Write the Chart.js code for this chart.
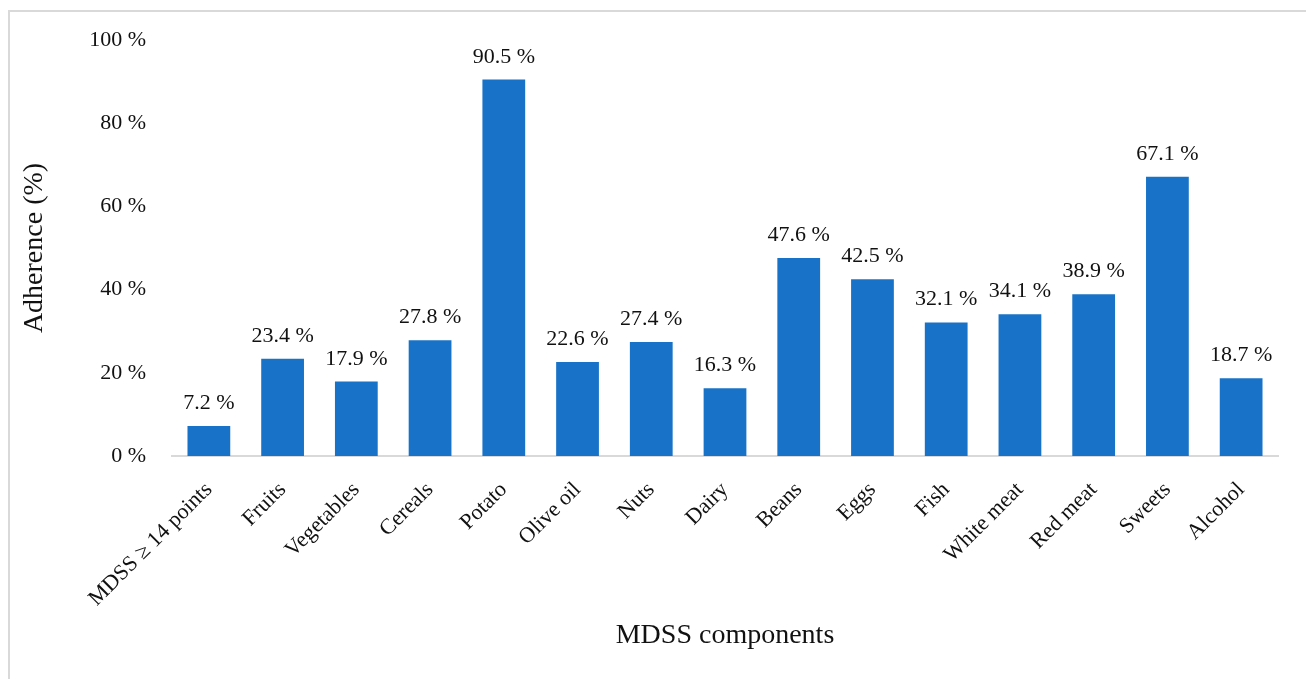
<!DOCTYPE html>
<html>
<head>
<meta charset="utf-8">
<script src="https://cdn.jsdelivr.net/npm/chart.js@4.4.1/dist/chart.umd.min.js"></script>
<style>
  body { margin: 0; background: #fff; overflow: hidden; }
  #frame { position: absolute; left: 8px; top: 10px; width: 1400px; height: 800px;
           border-left: 2px solid #d9d9d9; border-top: 2px solid #d9d9d9; }
  #chart { position: absolute; left: 0; top: 0; }
</style>
</head>
<body>
<div id="frame"></div>
<canvas id="chart" width="1306" height="679"></canvas>
<script>
var categories = ['MDSS \u2265 14 points', 'Fruits', 'Vegetables', 'Cereals', 'Potato', 'Olive oil', 'Nuts',
    'Dairy', 'Beans', 'Eggs', 'Fish', 'White meat', 'Red meat', 'Sweets', 'Alcohol'];
var adherence = [7.2, 23.4, 17.9, 27.8, 90.5, 22.6, 27.4, 16.3, 47.6, 42.5, 32.1, 34.1, 38.9, 67.1, 18.7];
var yTicks = [0, 20, 40, 60, 80, 100];

var serif = '"Liberation Serif", "Times New Roman", serif';

// draws the value above each bar
var valueLabels = {
    id: 'valueLabels',
    afterDatasetsDraw: function(chart) {
        var ctx = chart.ctx;
        var meta = chart.getDatasetMeta(0);
        ctx.save();
        ctx.font = '22px ' + serif;
        ctx.fillStyle = '#111';
        ctx.textAlign = 'center';
        ctx.textBaseline = 'alphabetic';
        meta.data.forEach(function(bar, i) {
            ctx.fillText(adherence[i].toFixed(1) + ' %', bar.x, bar.y - 17);
        });
        ctx.restore();
    }
};

var ctx = document.getElementById('chart').getContext('2d');
var chart = new Chart(ctx, {
    type: 'bar',
    data: {
        labels: categories,
        datasets: [{
            data: adherence,
            backgroundColor: '#1873c8',
            borderWidth: 0,
            barPercentage: 0.58,
            categoryPercentage: 1
        }]
    },
    options: {
        responsive: false,
        animation: false,
        layout: { padding: { left: 0, top: 40, right: 28, bottom: 0 } },
        plugins: {
            legend: { display: false },
            tooltip: { enabled: false }
        },
        scales: {
            x: {
                grid: { display: false, drawTicks: false },
                border: { display: true, color: '#d9d9d9', width: 2 },
                ticks: {
                    color: '#111',
                    font: { family: serif, size: 22 },
                    maxRotation: 45,
                    minRotation: 45,
                    padding: 21,
                    autoSkip: false
                },
                title: {
                    display: true,
                    text: 'MDSS components',
                    color: '#111',
                    font: { family: serif, size: 28 },
                    padding: { top: 0, bottom: 27 }
                },
                afterFit: function(scale) { scale.height = 223; }
            },
            y: {
                min: 0,
                max: 100,
                grid: { display: false, drawTicks: false },
                border: { display: false },
                afterBuildTicks: function(scale) {
                    scale.ticks = yTicks.map(function(v) { return { value: v }; });
                },
                ticks: {
                    color: '#111',
                    font: { family: serif, size: 22 },
                    padding: 26,
                    callback: function(v) { return v + ' %'; }
                },
                title: {
                    display: true,
                    text: 'Adherence (%)',
                    color: '#111',
                    font: { family: serif, size: 28 },
                    padding: { top: 18, bottom: 0 }
                },
                afterFit: function(scale) { scale.width = 172; }
            }
        }
    },
    plugins: [valueLabels]
});
</script>
</body>
</html>
